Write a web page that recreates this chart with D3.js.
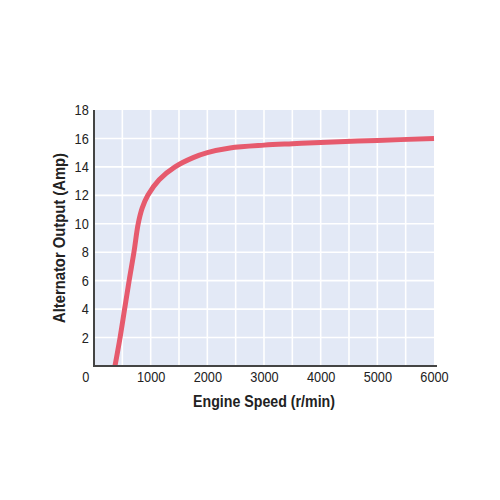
<!DOCTYPE html>
<html>
  <head>
    <meta charset="UTF-8">
    <title>Alternator Output</title>
    <script src="https://d3js.org/d3.v7.min.js"></script>
    <style>
      body { margin: 0; background: #fff; }
    </style>
  </head>
  <body>
    <div id="chart-container"></div>
  <script type="text/javascript">

    // Curve: engine speed (r/min) vs alternator output (A)
    const engineSpeed = [370, 460, 540, 620, 705, 780, 850, 950, 1150, 1430, 1750, 2000, 2400, 3000, 3500, 4000, 5000, 6000];
    const outputAmp   = [0,   2,   4,   6,   8,   10,  11.1, 12.0, 13.1, 14.0, 14.65, 15.0, 15.33, 15.53, 15.63, 15.72, 15.86, 16.0];

    const xTicks = [0, 1000, 2000, 3000, 4000, 5000, 6000];
    const yTicks = [2, 4, 6, 8, 10, 12, 14, 16, 18];

    const data = engineSpeed.map((s, i) => ({speed: s, amp: outputAmp[i]}));

    // Chart area
    const width = 500;
    const height = 500;
    const margin = ({top: 110, right: 66, bottom: 134, left: 94});
    const fontFamily = "'Liberation Sans', Arial, sans-serif";
    const squeeze = 0.88;   // reference uses a condensed face

    const x = d3.scaleLinear()
        .domain([0, 6000])
        .range([margin.left, width - margin.right]);

    const y = d3.scaleLinear()
        .domain([0, 18])
        .range([height - margin.bottom, margin.top]);

    const svg = d3.select("#chart-container")
        .append("svg")
        .attr("width", width)
        .attr("height", height)
        .attr("viewBox", `0 0 ${width} ${height}`);

    // Plot background
    svg.append("rect")
        .attr("x", margin.left)
        .attr("y", margin.top)
        .attr("width", x(6000) - margin.left)
        .attr("height", y(0) - margin.top)
        .attr("fill", "#e3e9f6");

    // White grid, every 500 r/min and every 2 A
    svg.append("g")
        .selectAll("line")
        .data(d3.range(500, 6000, 500))
        .join("line")
        .attr("x1", d => x(d)).attr("x2", d => x(d))
        .attr("y1", y(0)).attr("y2", y(18))
        .attr("stroke", "#fff")
        .attr("stroke-width", 1.6);

    svg.append("g")
        .selectAll("line")
        .data(yTicks.slice(0, -1))
        .join("line")
        .attr("x1", x(0)).attr("x2", x(6000))
        .attr("y1", d => y(d)).attr("y2", d => y(d))
        .attr("stroke", "#fff")
        .attr("stroke-width", 1.6);

    // The curve
    const line = d3.line()
        .x(d => x(d.speed))
        .y(d => y(d.amp))
        .curve(d3.curveCatmullRom.alpha(0.5));

    svg.append("path")
        .datum(data)
        .attr("d", line)
        .attr("fill", "none")
        .attr("stroke", "#e65a6d")
        .attr("stroke-width", 5);

    // Axes
    const xAxis = g => g
        .attr("transform", `translate(0,${y(0)})`)
        .call(d3.axisBottom(x).tickValues(xTicks).tickSize(0).tickPadding(6).tickFormat(d3.format("d")))
        .call(g => g.select(".domain").attr("stroke", "#444").attr("stroke-width", 2)
            .attr("d", `M${x(0) - 1},0H${x(6000) + 3}`))
        .call(g => g.selectAll("text").filter(d => d === 0).attr("dx", "-10"));

    const yAxis = g => g
        .attr("transform", `translate(${x(0)},0)`)
        .call(d3.axisLeft(y).tickValues(yTicks).tickSize(0).tickPadding(6))
        .call(g => g.select(".domain").attr("stroke", "#444").attr("stroke-width", 2)
            .attr("d", `M0,${y(18)}V${y(0) + 1}`));

    for (const axis of [xAxis, yAxis]) {
        svg.append("g")
            .call(axis)
            .call(g => g.selectAll("text")
                .attr("font-family", fontFamily)
                .attr("font-size", 14.5)
                .attr("fill", "#222")
                .attr("transform", `scale(${squeeze},1)`));
    }

    // Axis titles
    svg.append("text")
        .attr("x", (x(0) + x(6000)) / 2 - 71)
        .attr("y", 407)
        .attr("textLength", 142)
        .attr("lengthAdjust", "spacingAndGlyphs")
        .attr("font-family", fontFamily)
        .attr("font-size", 17)
        .attr("font-weight", "bold")
        .attr("fill", "#222")
        .text("Engine Speed (r/min)");

    svg.append("text")
        .attr("transform", `translate(65,${(y(0) + y(18)) / 2}) rotate(-90)`)
        .attr("x", -85)
        .attr("textLength", 170)
        .attr("lengthAdjust", "spacingAndGlyphs")
        .attr("font-family", fontFamily)
        .attr("font-size", 17)
        .attr("font-weight", "bold")
        .attr("fill", "#222")
        .text("Alternator Output (Amp)");
  </script>
  </body>
</html>
